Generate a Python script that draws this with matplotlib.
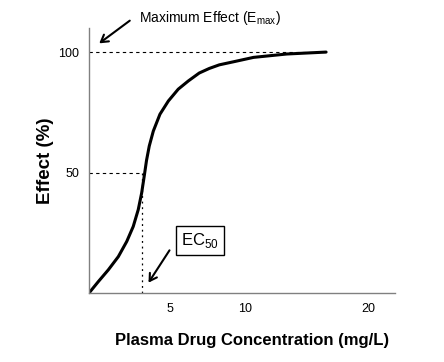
import numpy as np
from matplotlib import pyplot as plt

# concentration (mg/L) and effect (%)
conc = [0, 0.57, 1.19, 1.81, 2.33, 2.73, 3.04, 3.25, 3.42, 3.55, 3.72, 3.97,
        4.38, 4.90, 5.55, 6.22, 6.95, 7.62, 8.29, 9.33, 10.7, 13.4, 16.6]
effect = [0, 4.7, 9.6, 15.1, 21.4, 27.6, 34.6, 41.5, 49.0, 55.0, 61.0, 67.2,
          74.2, 79.7, 84.6, 88.0, 91.3, 93.2, 94.7, 96.1, 97.8, 99.2, 100]

ec50 = 3.3
emax = 100
xticks = [5, 10, 20]
yticks = [50, 100]

# the printed axis is not evenly spaced: tick value -> relative position
axis_vals = np.array([0, 5, 10, 20, 25])
axis_pos = np.array([0, 81, 156, 279, 340.5])


def fwd(x):
    return np.interp(x, axis_vals, axis_pos)


def inv(p):
    return np.interp(p, axis_pos, axis_vals)


plt.rcParams['font.family'] = 'Liberation Sans'
plt.rcParams['mathtext.fontset'] = 'custom'
plt.rcParams['mathtext.rm'] = 'Liberation Sans'

fig = plt.figure(figsize=(4.44, 3.62), dpi=100)
ax = fig.add_axes([0.2005, 0.1906, 0.689, 0.7321])

ax.plot(conc, effect, color='black', lw=2.2, solid_capstyle='round',
        solid_joinstyle='round')

dash = dict(color='black', lw=0.8, ls=(0, (3, 3)))
ax.plot([0, conc[-1]], [emax, emax], **dash)
ax.plot([0, ec50], [50, 50], **dash)
ax.plot([ec50, ec50], [0, 50], color='black', lw=0.9, ls=(0, (1.5, 3)))

ax.set_xscale('function', functions=(fwd, inv))
ax.set_xlim(0, 22.2)
ax.set_ylim(0, 110)
ax.set_xticks(xticks)
ax.set_yticks(yticks)
ax.tick_params(length=0, labelsize=9, pad=7)

for s in ['top', 'right']:
    ax.spines[s].set_visible(False)
for s in ['left', 'bottom']:
    ax.spines[s].set_color('#808080')
    ax.spines[s].set_linewidth(1)

ax.set_xlabel('Plasma Drug Concentration (mg/L)', fontsize=12, fontweight='bold', va='top')
ax.xaxis.set_label_coords(0.533, -0.151)
ax.set_ylabel('Effect (%)', fontsize=13.5, fontweight='bold')
ax.yaxis.set_label_coords(-0.114, 0.5)

arrow = dict(arrowstyle='->,head_length=0.5,head_width=0.3', color='black', lw=1.5)
fig.text(139, 344, r'Maximum Effect (E$_{\mathrm{max}}$)', transform=None,
         fontsize=10, va='center', ha='left')
ax.annotate('', xy=(97, 317), xycoords='figure pixels',
            xytext=(132, 343), textcoords='figure pixels', arrowprops=arrow)

fig.text(200, 122, r'EC$_{\mathrm{50}}$', transform=None, fontsize=12,
         ha='center', va='center',
         bbox=dict(boxstyle='square,pad=0.3', fc='white', ec='black', lw=1))
ax.annotate('', xy=(147, 77), xycoords='figure pixels',
            xytext=(171, 114), textcoords='figure pixels', arrowprops=arrow)

plt.savefig('out.png', dpi=100)
